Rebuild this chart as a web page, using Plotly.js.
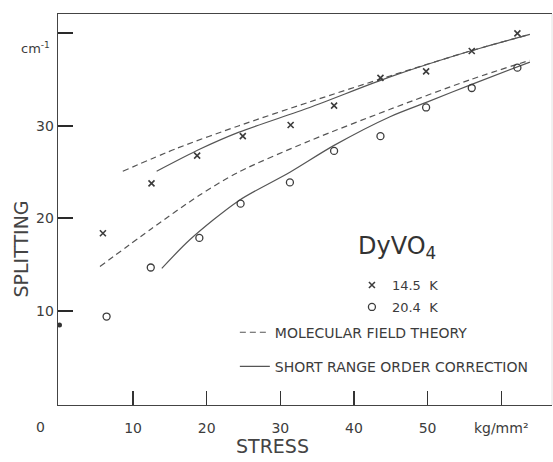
<!DOCTYPE html>
<html>
<head>
<meta charset="utf-8">
<script src="https://cdn.plot.ly/plotly-3.0.1.min.js"></script>
<style>html,body{margin:0;padding:0;background:#fff;}#chart{width:553px;height:462px;}</style>
</head>
<body>
<div id="chart"></div>
<script>
// Measured points, 14.5 K (crosses)
const x145 = [5.9, 12.5, 18.7, 24.9, 31.4, 37.3, 43.6, 49.8, 56.0, 62.2];
const y145 = [18.4, 23.8, 26.8, 28.9, 30.1, 32.2, 35.2, 35.9, 38.1, 40.0];
// Measured points, 20.4 K (circles)
const x204 = [6.4, 12.4, 19.0, 24.6, 31.3, 37.3, 43.6, 49.8, 56.0, 62.2];
const y204 = [9.4, 14.7, 17.9, 21.6, 23.9, 27.3, 28.9, 32.0, 34.1, 36.3];
// Zero-stress splitting
const x0pt = [0];
const y0pt = [8.5];
// Molecular field theory (dashed)
const mf145X = [8.6, 16, 24.3, 34, 44.9, 55.8, 63.9];
const mf145Y = [25.1, 27.6, 30.0, 32.6, 35.4, 38.1, 39.9];
const mf204X = [5.5, 12.5, 19.0, 24.3, 34, 44.9, 55.8, 63.9];
const mf204Y = [14.8, 18.9, 22.5, 25.0, 28.4, 31.8, 35.0, 37.1];
// Short range order correction (solid)
const sro145X = [13.2, 19.1, 24.3, 34, 44.9, 55.8, 63.9];
const sro145Y = [25.1, 27.5, 29.3, 32.0, 35.3, 38.1, 39.9];
const sro204X = [13.9, 17.7, 24.3, 31.3, 37.3, 44.9, 50.0, 56.0, 63.9];
const sro204Y = [14.6, 17.7, 21.9, 25.0, 27.9, 31.0, 32.6, 34.5, 36.9];
// Ticks
const xTickVals = [10, 20, 30, 40, 50, 60];
const xTickText = ['10', '20', '30', '40', '50', 'kg/mm²'];
const yTickVals = [10, 20, 30, 40];
const yTickText = ['10', '20', '30', ' '];

const INK = '#3c3c3c';
const LINE = '#555555';
const FONT = 'DejaVu Sans, sans-serif';

const traces = [
  {x: mf145X, y: mf145Y, mode: 'lines', line: {color: LINE, width: 1.2, dash: '6px,4px', shape: 'spline', smoothing: 0.8},
   name: 'MOLECULAR FIELD THEORY', legend: 'legend2', legendgroup: 'a', showlegend: true, hoverinfo: 'skip'},
  {x: mf204X, y: mf204Y, mode: 'lines', line: {color: LINE, width: 1.2, dash: '6px,4px', shape: 'spline', smoothing: 0.8},
   showlegend: false, hoverinfo: 'skip'},
  {x: sro145X, y: sro145Y, mode: 'lines', line: {color: LINE, width: 1.2, shape: 'spline', smoothing: 0.8},
   name: 'SHORT RANGE ORDER CORRECTION', legend: 'legend2', legendgroup: 'b', showlegend: true, hoverinfo: 'skip'},
  {x: sro204X, y: sro204Y, mode: 'lines', line: {color: LINE, width: 1.2, shape: 'spline', smoothing: 0.8},
   showlegend: false, hoverinfo: 'skip'},
  {x: x145, y: y145, mode: 'markers', name: '14.5  K', legend: 'legend', legendgroup: 'c',
   marker: {symbol: 'x-thin-open', size: 6, color: INK, line: {width: 1.6, color: INK}}},
  {x: x204, y: y204, mode: 'markers', name: '20.4  K', legend: 'legend', legendgroup: 'd',
   marker: {symbol: 'circle-open', size: 7, color: INK, line: {width: 1.3, color: INK}}},
  {x: x0pt, y: y0pt, mode: 'markers', showlegend: false, cliponaxis: false,
   marker: {symbol: 'circle', size: 5, color: '#333'}}
];

const layout = {
  width: 553, height: 462,
  margin: {l: 58, r: 1, t: 14, b: 57, pad: 0},
  paper_bgcolor: '#ffffff', plot_bgcolor: '#ffffff',
  font: {family: FONT, color: INK, size: 14},
  showlegend: true,
  xaxis: {
    range: [-0.2, 66.9], showgrid: false, zeroline: false,
    showline: true, linecolor: '#444', linewidth: 1.3, mirror: true,
    ticks: 'inside', ticklen: 14, tickwidth: 1.3, tickcolor: '#333',
    tickvals: xTickVals, ticktext: xTickText, ticklabelstandoff: 10,
    tickfont: {family: FONT, size: 14, color: INK}
  },
  yaxis: {
    range: [-0.16, 42.1], showgrid: false, zeroline: false,
    showline: true, linecolor: '#444', linewidth: 1.3,
    ticks: 'inside', ticklen: 15, tickwidth: 2, tickcolor: '#2a2a2a',
    tickvals: yTickVals, ticktext: yTickText,
    tickfont: {family: FONT, size: 14, color: INK}
  },
  legend: {
    x: 0.595, y: 0.345, xanchor: 'left', yanchor: 'top',
    bgcolor: 'rgba(0,0,0,0)', borderwidth: 0,
    font: {family: FONT, size: 13, color: INK},
    traceorder: 'grouped', tracegroupgap: 2, itemwidth: 30
  },
  legend2: {
    x: 0.358, y: 0.226, xanchor: 'left', yanchor: 'top',
    bgcolor: 'rgba(0,0,0,0)', borderwidth: 0,
    font: {family: FONT, size: 14, color: INK},
    traceorder: 'grouped', tracegroupgap: 13, itemwidth: 30
  },
  shapes: [
    {type: 'line', xref: 'paper', yref: 'paper', x0: 1, x1: 1, y0: 0, y1: 1,
     line: {color: '#e2e2e2', width: 1}}
  ],
  annotations: [
    {xref: 'paper', yref: 'paper', x: -0.012, y: 0.913, xanchor: 'right', yanchor: 'middle',
     text: 'cm<sup>-1</sup>', showarrow: false, font: {family: FONT, size: 13, color: INK}},
    {xref: 'paper', yref: 'paper', x: -0.036, y: -0.056, xanchor: 'center', yanchor: 'middle',
     text: '0', showarrow: false, font: {family: FONT, size: 14, color: INK}},
    {xref: 'paper', yref: 'paper', x: -0.075, y: 0.4, xanchor: 'center', yanchor: 'middle',
     text: 'SPLITTING', textangle: -90, showarrow: false, font: {family: FONT, size: 19, color: '#444'}},
    {xref: 'paper', yref: 'paper', x: 0.435, y: -0.105, xanchor: 'center', yanchor: 'middle',
     text: 'STRESS', showarrow: false, font: {family: FONT, size: 19, color: '#444'}},
    {xref: 'paper', yref: 'paper', x: 0.686, y: 0.404, xanchor: 'center', yanchor: 'middle',
     text: 'DyVO<sub>4</sub>', showarrow: false, font: {family: FONT, size: 24, color: '#333'}}
  ]
};

Plotly.newPlot('chart', traces, layout, {staticPlot: true, displayModeBar: false});
</script>
</body>
</html>
